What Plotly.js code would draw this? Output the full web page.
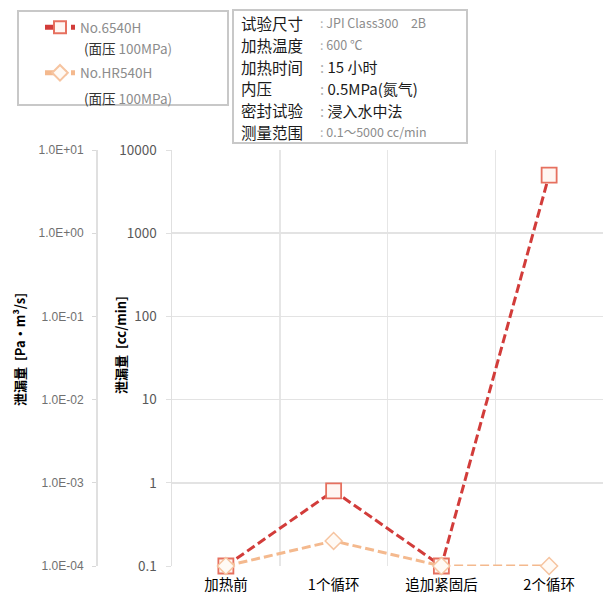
<!DOCTYPE html>
<html>
<head>
<meta charset="utf-8">
<script src="https://cdn.plot.ly/plotly-3.0.1.min.js"></script>
<style>html,body{margin:0;padding:0;background:#fff;}#chart{width:603px;height:601px;}</style>
</head>
<body>
<div id="chart"></div>
<script>
// ---- data ----
const categories = ['加热前', '1个循环', '追加紧固后', '2个循环'];
const leak6540H = [0.1, 0.8, 0.1, 5000];      // cc/min
const leakHR540H = [0.1, 0.2, 0.1, 0.1];      // cc/min
const ccToPa = 1e-3;                           // 0.1 cc/min ↔ 1.0E-04 Pa·m³/s
const name6540H = 'No.6540H';
const nameHR540H = 'No.HR540H';
const legendSub = '(面压 100MPa)';
const ccTickVals = [0.1, 1, 10, 100, 1000, 10000];
const ccTickText = ['0.1', '1', '10', '100', '1000', '10000'];
const paTickVals = [1e-4, 1e-3, 1e-2, 1e-1, 1, 10];
const paTickText = ['1.0E-04', '1.0E-03', '1.0E-02', '1.0E-01', '1.0E+00', '1.0E+01'];
const infoLabels = ['试验尺寸', '加热温度', '加热时间', '内压', '密封试验', '测量范围'];
const infoValues = ['JPI Class300　2B', '600 ℃', '15 小时', '0.5MPa(氮气)', '浸入水中法', '0.1～5000 cc/min'];
const infoGray = [true, true, false, false, false, true];

// ---- geometry helpers ----
const W = 603, PT = 150, PB = 566, PH = PB - PT;
const px = x => x / W;
const py = y => 1 + (PT - y) / PH;
const xIdx = categories.map((c, i) => i);

const font = '"Noto Sans CJK SC", "Noto Sans", sans-serif';

const traces = [
  {
    x: xIdx, y: leak6540H, type: 'scatter', mode: 'lines+markers',
    name: name6540H, legendgroup: 'a',
    line: {color: '#d23c3a', width: 3, dash: '9px,4px'},
    marker: {symbol: 'square', size: 15, color: '#fff6f2', line: {width: 1.8, color: '#e6705f'}},
    cliponaxis: false
  },
  {
    x: xIdx, y: leakHR540H, type: 'scatter', mode: 'lines+markers',
    name: nameHR540H, legendgroup: 'b',
    line: {color: '#f4b98e', width: 3, dash: '9px,4px'},
    marker: {symbol: 'diamond', size: 13, color: '#fffaf5', line: {width: 1.5, color: '#f6c4a0'}},
    cliponaxis: false
  },
  {
    // same 6540H series expressed in Pa·m³/s, only to carry the left unit axis
    x: xIdx, y: leak6540H.map(v => v * ccToPa), yaxis: 'y2', type: 'scatter', mode: 'none',
    showlegend: false, hoverinfo: 'skip'
  }
];

const annotations = [];
infoLabels.forEach((lab, i) => {
  const yy = 23 + i * 21.8;
  annotations.push({xref: 'paper', yref: 'paper', x: px(239), y: py(yy), xanchor: 'left', yanchor: 'middle',
    text: lab, showarrow: false, font: {family: font, size: 15.5, color: '#1a1a1a'}});
  annotations.push({xref: 'paper', yref: 'paper', x: px(318), y: py(yy), xanchor: 'left', yanchor: 'middle',
    text: '<span style="color:#b0b0b0">:</span> ' + infoValues[i], showarrow: false,
    font: {family: font, size: infoGray[i] ? 12.5 : 15, color: infoGray[i] ? '#8c8c8c' : '#1a1a1a'}});
});
// legend sub-lines
[48, 98].forEach(yy => {
  annotations.push({xref: 'paper', yref: 'paper', x: px(82), y: py(yy), xanchor: 'left', yanchor: 'middle',
    text: '<span style="color:#333">(面压</span> <span style="color:#8c8c8c">100MPa)</span>', showarrow: false,
    font: {family: font, size: 13.5, color: '#555'}});
});
annotations.push({xref: 'paper', yref: 'paper', x: px(19), y: py(350), xanchor: 'center', yanchor: 'middle',
  textangle: -90, text: '<b>泄漏量  [Pa・m³/s]</b>', showarrow: false, font: {family: font, size: 13, color: '#000'}});
annotations.push({xref: 'paper', yref: 'paper', x: px(120), y: py(345), xanchor: 'center', yanchor: 'middle',
  textangle: -90, text: '<b>泄漏量  [cc/min]</b>', showarrow: false, font: {family: font, size: 13, color: '#000'}});

const layout = {
  width: 603, height: 601,
  margin: {l: 0, r: 0, t: PT, b: 601 - PB, autoexpand: false},
  paper_bgcolor: '#fff', plot_bgcolor: '#fff',
  font: {family: font},
  showlegend: true,
  legend: {x: px(40), y: py(12), xanchor: 'left', yanchor: 'top', bgcolor: 'rgba(0,0,0,0)',
    font: {family: font, size: 13.5, color: '#8c8c8c'}, tracegroupgap: 25, itemwidth: 30,
    itemsizing: 'constant'},
  xaxis: {
    domain: [px(172), 1], range: [-0.5, 3.5],
    tickmode: 'array', tickvals: xIdx, ticktext: categories,
    showgrid: false, zeroline: false, showline: false, ticks: '',
    ticklabelstandoff: 8,
    tickfont: {family: font, size: 14.5, color: '#000'},
    minor: {tick0: 0.5, dtick: 1, showgrid: true, gridcolor: '#e6e6e6', gridwidth: 1.5, ticks: ''}
  },
  yaxis: {
    type: 'log', range: [-1, 4], anchor: 'x',
    tickmode: 'array', tickvals: ccTickVals, ticktext: ccTickText,
    showgrid: true, gridcolor: '#e3e3e3', gridwidth: 1.5,
    showline: true, linecolor: '#e0e0e0', linewidth: 1.5,
    ticks: 'outside', ticklen: 5, tickcolor: '#e0e0e0', ticklabelstandoff: 6,
    tickfont: {family: font, size: 13.5, color: '#595959'}, zeroline: false
  },
  yaxis2: {
    type: 'log', range: [-4, 1], overlaying: 'y', anchor: 'free', side: 'left', position: px(96),
    tickmode: 'array', tickvals: paTickVals, ticktext: paTickText,
    showgrid: false, showline: true, linecolor: '#e0e0e0', linewidth: 1.5,
    ticks: 'outside', ticklen: 4, tickcolor: '#d9d9d9', ticklabelstandoff: 6,
    tickfont: {family: '"Liberation Sans", Arial, sans-serif', size: 12, color: '#707070'}, zeroline: false
  },
  shapes: [
    {type: 'rect', xref: 'paper', yref: 'paper', x0: px(18), x1: px(228), y0: py(105), y1: py(11),
      line: {color: '#c8c8c8', width: 2}, fillcolor: 'rgba(0,0,0,0)', layer: 'below'},
    {type: 'rect', xref: 'paper', yref: 'paper', x0: px(233), x1: px(467), y0: py(143), y1: py(10),
      line: {color: '#c8c8c8', width: 2}, fillcolor: 'rgba(0,0,0,0)', layer: 'below'}
  ],
  annotations: annotations
};

Plotly.newPlot('chart', traces, layout, {displayModeBar: false, staticPlot: true});
</script>
</body>
</html>
